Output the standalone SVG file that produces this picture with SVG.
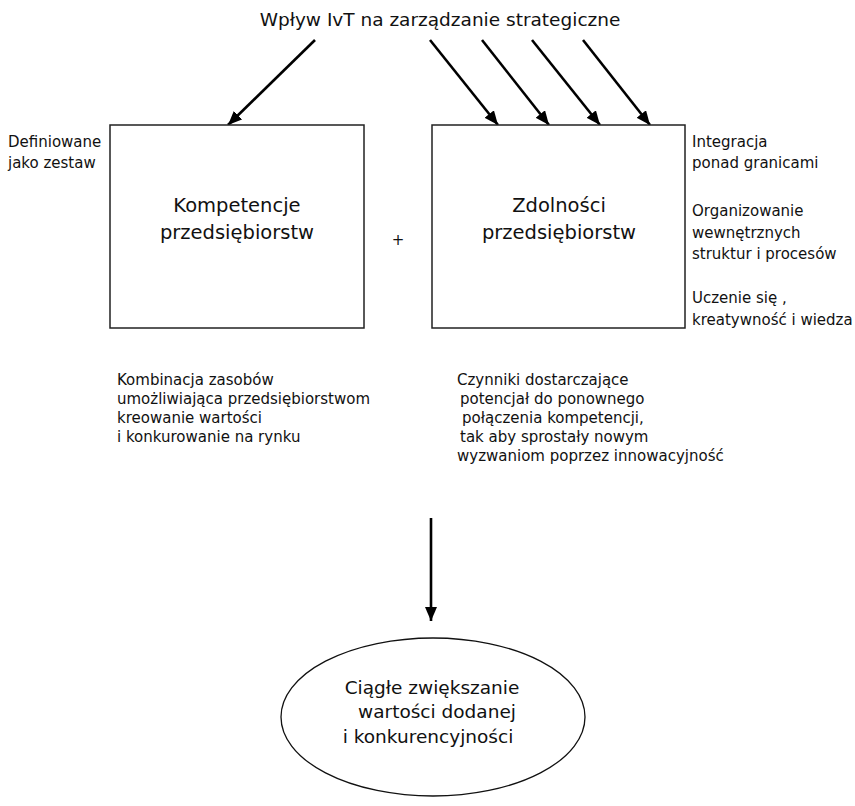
<svg xmlns="http://www.w3.org/2000/svg" width="855" height="806" viewBox="0 0 855 806">
<defs>
<marker id="ah" markerUnits="userSpaceOnUse" markerWidth="16" markerHeight="14" refX="14" refY="6" orient="auto">
<path d="M0,0 L14,6 L0,12 Z" fill="#000"/>
</marker>
<style>
text{font-family:"DejaVu Sans","Liberation Sans",sans-serif;fill:#111;}
.t{font-size:18.5px;}
.b{font-size:19.5px;text-anchor:middle;}
.s{font-size:15px;}
.e{font-size:18.5px;}
.box{fill:#fff;stroke:#222;stroke-width:1.5;}
.ar{stroke:#000;stroke-width:2.6;fill:none;marker-end:url(#ah);}
</style>
</defs>
<rect width="855" height="806" fill="#fff"/>
<g id="title"><text class="t" x="440" y="26" text-anchor="middle">Wpływ IvT na zarządzanie strategiczne</text></g>
<g id="connectors">
<line class="ar" x1="315" y1="40" x2="228" y2="125"/>
<line class="ar" x1="430" y1="40" x2="498" y2="125"/>
<line class="ar" x1="482" y1="40" x2="549" y2="125"/>
<line class="ar" x1="532" y1="40" x2="600" y2="125"/>
<line class="ar" x1="583" y1="40" x2="650" y2="125"/>
<line class="ar" x1="431" y1="518" x2="431" y2="621"/>
</g>
<g id="kompetencje">
<rect class="box" x="110" y="125" width="254" height="203"/>
<text class="b" x="237" y="212">Kompetencje</text>
<text class="b" x="237" y="239">przedsiębiorstw</text>
</g>
<g id="plus"><text class="s" x="398" y="245" text-anchor="middle">+</text></g>
<g id="zdolnosci">
<rect class="box" x="432" y="125" width="253" height="203"/>
<text class="b" x="559" y="212">Zdolności</text>
<text class="b" x="559" y="239">przedsiębiorstw</text>
</g>
<g id="definiowane">
<text class="s" x="8" y="147">Definiowane</text>
<text class="s" x="8" y="168">jako zestaw</text>
</g>
<g id="cechy">
<text class="s" x="692" y="147">Integracja</text>
<text class="s" x="692" y="168">ponad granicami</text>
<text class="s" x="692" y="216">Organizowanie</text>
<text class="s" x="692" y="238">wewnętrznych</text>
<text class="s" x="692" y="259">struktur i procesów</text>
<text class="s" x="692" y="303">Uczenie się ,</text>
<text class="s" x="692" y="325">kreatywność i wiedza</text>
</g>
<g id="opis-kompetencji">
<text class="s" x="117" y="385">Kombinacja zasobów</text>
<text class="s" x="117" y="404">umożliwiająca przedsiębiorstwom</text>
<text class="s" x="117" y="423">kreowanie wartości</text>
<text class="s" x="117" y="442">i konkurowanie na rynku</text>
</g>
<g id="opis-zdolnosci">
<text class="s" x="457" y="385">Czynniki dostarczające</text>
<text class="s" x="460" y="404">potencjał do ponownego</text>
<text class="s" x="462" y="423">połączenia kompetencji,</text>
<text class="s" x="460" y="442">tak aby sprostały nowym</text>
<text class="s" x="457" y="461">wyzwaniom poprzez innowacyjność</text>
</g>
<g id="wynik">
<ellipse cx="433" cy="717" rx="152" ry="79" fill="#fff" stroke="#111" stroke-width="1.3"/>
<text class="e" x="432" y="694" text-anchor="middle">Ciągłe zwiększanie</text>
<text class="e" x="437" y="718" text-anchor="middle">wartości dodanej</text>
<text class="e" x="428" y="743" text-anchor="middle">i konkurencyjności</text>
</g>
</svg>
